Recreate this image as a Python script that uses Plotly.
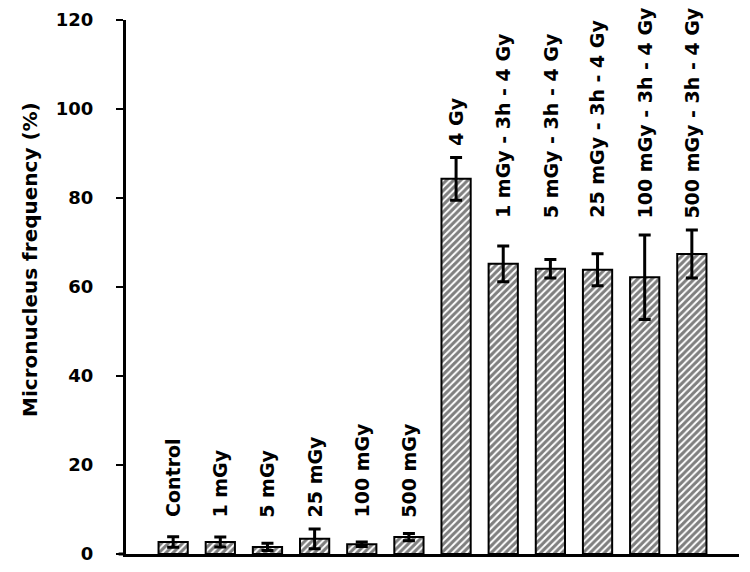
import plotly.graph_objects as go

categories = ["Control", "1 mGy", "5 mGy", "25 mGy", "100 mGy", "500 mGy",
              "4 Gy", "1 mGy - 3h - 4 Gy", "5 mGy - 3h - 4 Gy", "25 mGy - 3h - 4 Gy",
              "100 mGy - 3h - 4 Gy", "500 mGy - 3h - 4 Gy"]
values = [2.7, 2.7, 1.6, 3.4, 2.2, 3.8, 84.3, 65.2, 64.1, 63.9, 62.2, 67.4]
errors = [1.2, 1.1, 0.8, 2.2, 0.5, 0.8, 4.8, 4.0, 2.1, 3.6, 9.5, 5.4]
label_group = [0, 0, 0, 0, 0, 0, 1, 2, 2, 2, 2, 2]
y_ticks = [0, 20, 40, 60, 80, 100, 120]

FONT = "DejaVu Sans"
xs = list(range(len(categories)))

fig = go.Figure()
fig.add_trace(go.Bar(
    x=xs, y=values, width=0.62,
    marker=dict(color="white",
                line=dict(color="black", width=2),
                pattern=dict(shape="/", fgcolor="black", bgcolor="white",
                             size=5, solidity=0.6)),
    error_y=dict(type="data", array=errors, visible=True,
                 color="black", thickness=3, width=6),
    showlegend=False,
))

# label base: top of highest error bar in each group
group_top = {}
for g, v, e in zip(label_group, values, errors):
    group_top[g] = max(group_top.get(g, 0), v + e)

for i, (c, g) in enumerate(zip(categories, label_group)):
    fig.add_annotation(x=i, y=group_top[g] + 2.2, text="<b>%s</b>" % c,
                       textangle=-90, showarrow=False,
                       xanchor="center", yanchor="bottom",
                       font=dict(family=FONT, size=19, color="black"))

fig.add_annotation(xref="paper", yref="paper", x=-0.1566, y=0.5506,
                   text="<b>Micronucleus frequency (%)</b>", textangle=-90,
                   showarrow=False, xanchor="center", yanchor="middle",
                   font=dict(family=FONT, size=20, color="black"))

# x axis line extends slightly left of the y axis
fig.add_shape(type="line", xref="paper", yref="paper",
              x0=-0.012, x1=0.0, y0=0, y1=0,
              line=dict(color="black", width=3))

fig.update_layout(
    width=750, height=572,
    margin=dict(l=118, r=19, t=12, b=26, autoexpand=False),
    paper_bgcolor="white", plot_bgcolor="white",
    xaxis=dict(range=[-1, 12], showticklabels=False, ticks="",
               showgrid=False, zeroline=False, automargin=False,
               showline=True, linecolor="black", linewidth=3),
    yaxis=dict(range=[0, 120], tickvals=y_ticks,
               ticktext=["<b>%d</b>" % t for t in y_ticks],
               ticks="outside", ticklen=7, tickwidth=2, tickcolor="black",
               ticklabelstandoff=19, automargin=False,
               tickfont=dict(family=FONT, size=18, color="black"),
               showgrid=False, zeroline=False,
               showline=True, linecolor="black", linewidth=3),
)

fig.write_html("out.html")
